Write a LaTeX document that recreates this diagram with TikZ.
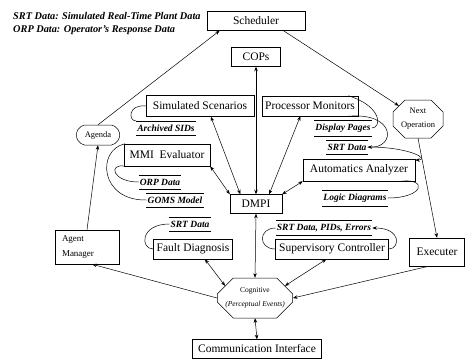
\documentclass[tikz,border=0pt]{standalone}
\usepackage{fontspec}
\setmainfont{Liberation Serif}
\usetikzlibrary{arrows.meta,shapes.misc,calc,shadows}
\begin{document}
\begin{tikzpicture}[x=1pt,y=-1pt,
  every node/.style={inner sep=0pt},
  box/.style={draw, line width=0.5pt, fill=white, align=center,
    font=\fontsize{11.5}{13}\selectfont,
    general shadow={fill=black!75, shadow xshift=0.8pt, shadow yshift=-0.8pt}},
  smallbox/.style={box, font=\fontsize{9}{12}\selectfont},
  octa/.style={draw, line width=0.5pt, chamfered rectangle, align=center,
    font=\fontsize{8.5}{12}\selectfont, inner sep=0pt},
  store/.style={font=\fontsize{9.5}{11}\selectfont\bfseries\itshape, inner xsep=1pt, inner ysep=3.5pt},
  legend/.style={anchor=west, font=\fontsize{10.3}{12}\selectfont\bfseries\itshape},
  conn/.style={line width=0.5pt},
  arr/.style={conn, -{Stealth[length=4.5pt,width=3.5pt]}},
  darr/.style={conn, {Stealth[length=4.5pt,width=3.5pt]}-{Stealth[length=4.5pt,width=3.5pt]}}
]
\useasboundingbox (0,0) rectangle (465,359);

% legend
\node[legend] (leg1) at (13,16) {SRT Data: Simulated Real-Time Plant Data};
\node[legend] (leg2) at (13,30) {ORP Data: Operator's Response Data};

% boxes
\node[box, minimum width=98pt, minimum height=19pt] (sched) at (256,21) {Scheduler};
\node[box, minimum width=49pt, minimum height=19pt] (cops) at (256,57) {COPs};
\node[box, minimum width=108pt, minimum height=21pt] (sim) at (200,106) {Simulated Scenarios};
\node[box, minimum width=96pt, minimum height=20pt] (proc) at (310,106) {Processor Monitors};
\node[box, minimum width=86pt, minimum height=22pt] (mmi) at (167,155) {MMI\ \ Evaluator};
\node[box, minimum width=112pt, minimum height=22pt] (auto) at (359,170) {Automatics Analyzer};
\node[box, minimum width=52pt, minimum height=19pt] (dmpi) at (256,204) {DMPI};
\node[box, minimum width=79pt, minimum height=20pt] (fault) at (193,249) {Fault Diagnosis};
\node[box, minimum width=113pt, minimum height=20pt] (sup) at (332,249) {Supervisory Controller};
\node[smallbox, minimum width=64pt, minimum height=34pt, align=left, text width=50pt] (agent) at (87,247) {Agent\\[3pt]Manager};
\node[box, minimum width=55pt, minimum height=28pt] (exec) at (437,252) {Executer};
\node[box, minimum width=129pt, minimum height=19pt] (comm) at (257,349) {Communication Interface};

% octagons
\node[octa, minimum width=50pt, minimum height=38pt, chamfered rectangle xsep=6pt, chamfered rectangle ysep=6pt] (nextop) at (418,119) {Next\\[2pt]Operation};
\node[octa, rounded corners=2pt, minimum width=43pt, minimum height=20pt, chamfered rectangle xsep=3pt, chamfered rectangle ysep=3pt] (agenda) at (98,135) {Agenda};
\node[octa, minimum width=74pt, minimum height=40pt, chamfered rectangle xsep=8pt, chamfered rectangle ysep=8pt, font=\fontsize{7.5}{11}\selectfont] (cog) at (255,298) {Cognitive\\[3pt]\textit{(Perceptual Events)}};

% data stores
\node[store] (arch) at (166,128) {Archived SIDs};
\node[store] (disp) at (343,128) {Display Pages};
\node[store] (srtR) at (347,147) {SRT Data};
\node[store] (orp) at (160,182) {ORP Data};
\node[store] (goms) at (175,200) {GOMS Model};
\node[store] (logic) at (355,198) {Logic Diagrams};
\node[store] (srtL) at (190,224) {SRT Data};
\node[store] (srtpid) at (324,228) {SRT Data, PIDs, Errors};
\foreach \n in {arch,disp,srtR,orp,goms,logic,srtL,srtpid}{
  \draw[conn] (\n.north west) -- (\n.north east);
  \draw[conn] (\n.south west) -- (\n.south east);
}

% straight connectors
\draw[arr] (agenda.north) -- ($(sched.south west)!0.13!(sched.south east)$);
\draw[arr] ($(sched.south west)!0.78!(sched.south east)$) -- (nextop.north west);
\draw[darr] (cops.south) -- (dmpi.north);
\draw[darr] ($(sim.south west)!0.6!(sim.south east)$) -- ($(dmpi.north west)!0.2!(dmpi.north east)$);
\draw[darr] ($(proc.south west)!0.4!(proc.south east)$) -- ($(dmpi.north west)!0.75!(dmpi.north east)$);
\draw[darr] (mmi.south east) -- (dmpi.north west);
\draw[darr] (auto.south west) -- (dmpi.north east);
\draw[darr] (dmpi.south) -- (cog.north);
\draw[darr] ($(fault.south west)!0.65!(fault.south east)$) -- (cog.north west);
\draw[darr] ($(sup.south west)!0.45!(sup.south east)$) -- (cog.north east);
\draw[arr] (cog.west) -- ($(agent.south west)!0.58!(agent.south east)$);
\draw[arr] (agent.north) -- (agenda.south);
\draw[arr] (nextop.south) -- (exec.north);
\draw[arr] ($(exec.south west)!0.35!(exec.south east)$) -- (cog.east);
\draw[darr] (cog.south) -- (comm.north);

% curved connectors
\draw[conn] (sim.west) .. controls (128,104) and (128,121) .. (arch.north west);
\draw[conn] (mmi.165) .. controls (96,150) and (100,201) .. (goms.west);
\draw[conn] (mmi.195) .. controls (108,163) and (112,182) .. (orp.west);
\draw[conn] (proc.15) .. controls (382,106) and (382,128) .. (disp.east);
\draw[arr] (proc.-15) .. controls (396,112) and (396,148) .. (srtR.east);
\draw[arr] (srtR.east) .. controls (412,147) and (430,160) .. (auto.10);
\draw[conn] (auto.-15) .. controls (428,178) and (424,198) .. (logic.east);
\draw[conn] (srtL.west) .. controls (140,224) and (140,249) .. (fault.west);
\draw[conn] (srtpid.west) .. controls (258,228) and (258,249) .. (sup.west);
\draw[arr] (sup.east) .. controls (400,249) and (402,228) .. (srtpid.east);
\end{tikzpicture}
\end{document}
